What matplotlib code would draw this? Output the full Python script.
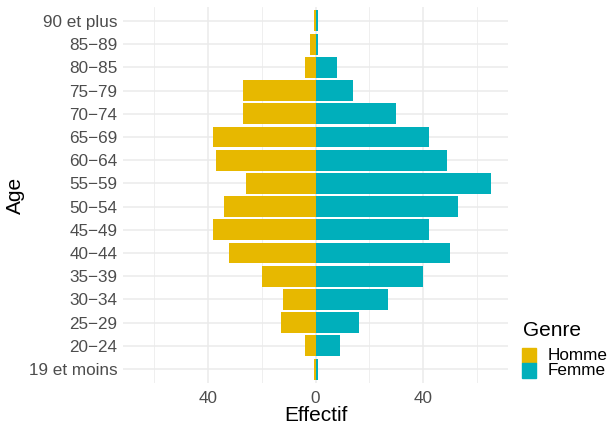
import numpy as np
import matplotlib.pyplot as plt
from matplotlib.patches import Rectangle

plt.rcParams['font.family'] = ['Liberation Sans', 'DejaVu Sans']

ages = ["19 et moins", "20−24", "25−29", "30−34", "35−39", "40−44", "45−49",
        "50−54", "55−59", "60−64", "65−69", "70−74", "75−79", "80−85",
        "85−89", "90 et plus"]
homme = [0.7, 4, 13, 12, 20, 32, 38, 34, 26, 37, 38, 27, 27, 4, 2, 0.7]
femme = [1.1, 9, 16, 27, 40, 50, 42, 53, 65, 49, 42, 30, 14, 8, 1, 1.1]
genres = ["Homme", "Femme"]
colors = ["#E7B800", "#00AFBB"]

fig = plt.figure(figsize=(6.08, 4.24), dpi=100)
ax = fig.add_axes([123/608, 1-383/424, 385/608, 376/424])

y = np.arange(len(ages))
ax.barh(y, -np.array(homme), height=0.9, color=colors[0], zorder=2)
ax.barh(y, femme, height=0.9, color=colors[1], zorder=2)

lim = max(max(homme), max(femme)) * 1.1
ax.set_xlim(-lim, lim)
ax.set_ylim(-0.6, len(ages) - 0.4)

ax.set_xticks([-40, 0, 40])
ax.set_xticklabels(["40", "0", "40"])
ax.set_xticks([-60, -20, 20, 60], minor=True)
ax.set_yticks(y)
ax.set_yticklabels(ages)

ax.grid(True, which='major', color='#EBEBEB', lw=1.1, zorder=0)
ax.grid(True, which='minor', axis='x', color='#EBEBEB', lw=0.55, zorder=0)
ax.set_axisbelow(True)
for s in ax.spines.values():
    s.set_visible(False)
ax.tick_params(which='both', length=0)
ax.tick_params(axis='x', pad=6, labelsize=12.3, labelcolor='#4D4D4D')
ax.tick_params(axis='y', pad=4, labelsize=12.3, labelcolor='#4D4D4D')
for lab in ax.get_yticklabels():
    lab.set_va('center_baseline')

ax.set_xlabel("Effectif", fontsize=15, labelpad=0)
ax.set_ylabel("Age", fontsize=15, labelpad=3)

# legend
fig.text(523/608, 1-336/424, "Genre", fontsize=15, va='baseline', ha='left')
for i, (g, c) in enumerate(zip(genres, colors)):
    top = 348 + i * 15
    fig.add_artist(Rectangle((522/608, 1-(top+15)/424), 14/608, 15/424,
                             color=c, transform=fig.transFigure))
    fig.text(548/608, 1-(top+7.5)/424, g, fontsize=12.3, va='center', ha='left')

fig.savefig("out.png", dpi=100)
